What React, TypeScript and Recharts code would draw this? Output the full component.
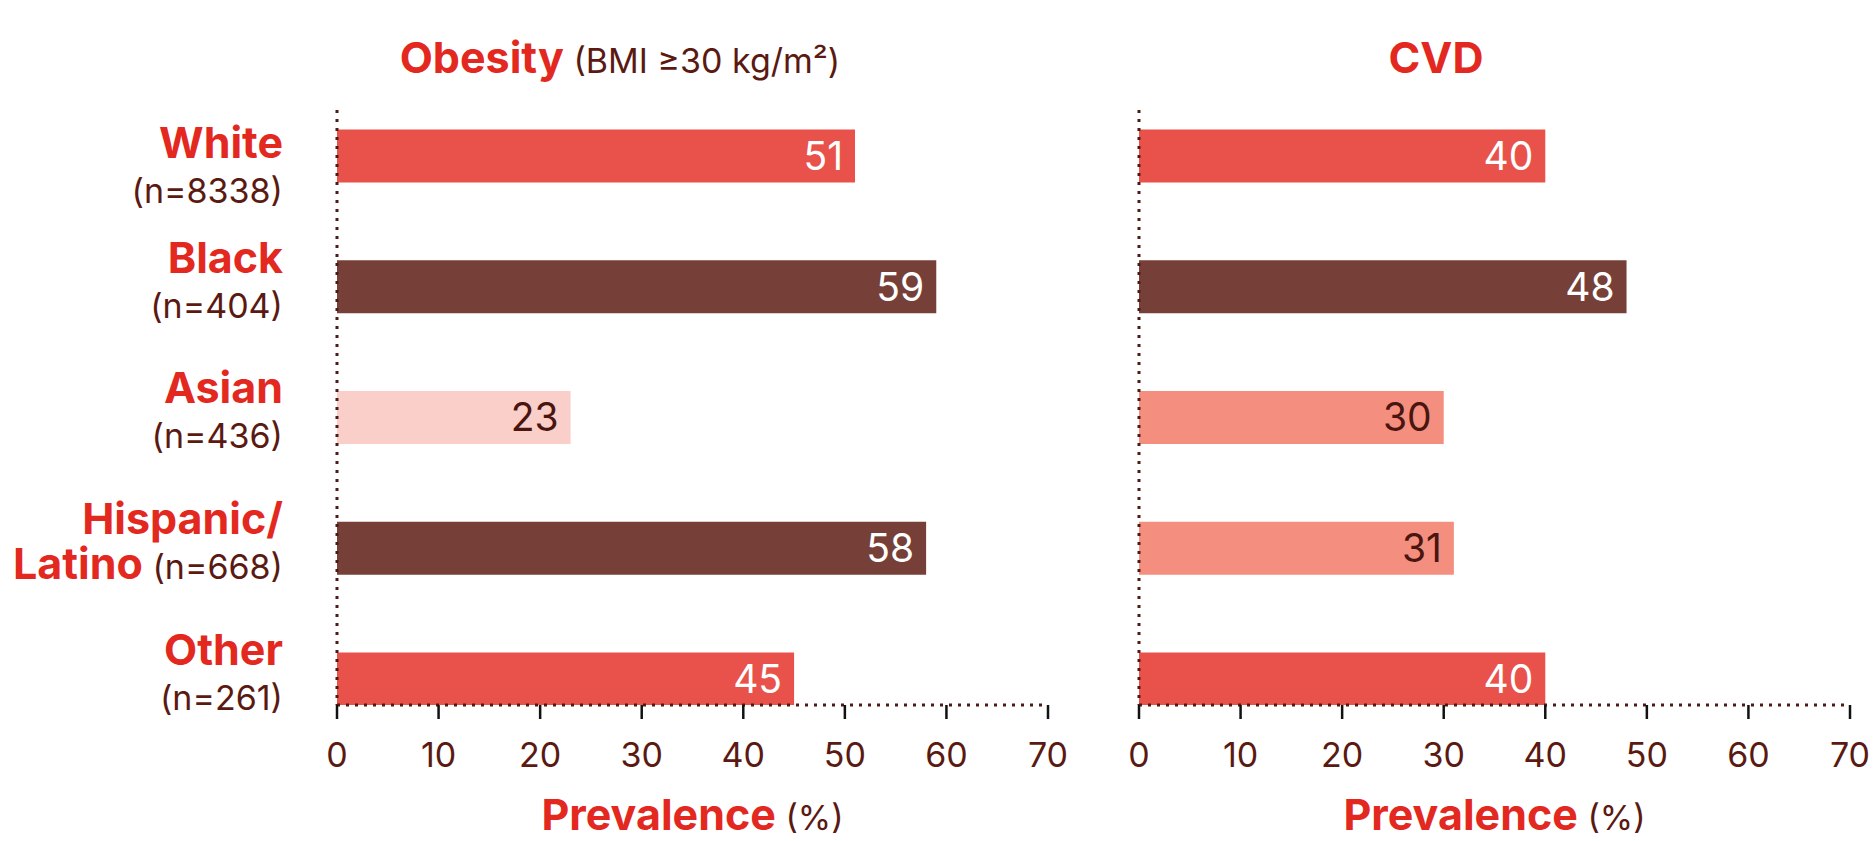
import React from 'react';
import { BarChart, Bar, XAxis, YAxis, Cell, LabelList, Label } from 'recharts';

// data
const categories = ['White', 'Black', 'Asian', 'Hispanic/Latino', 'Other'];
const sampleSizes = [8338, 404, 436, 668, 261];
const obesityValues = [51, 59, 23, 58, 45];
const cvdValues = [40, 48, 30, 31, 40];
const xTicks = [0, 10, 20, 30, 40, 50, 60, 70];

const FONT = 'Inter, "Noto Sans", sans-serif';
const RED_TEXT = '#e3291f';
const DARK_TEXT = '#5a1a12';
const RED = '#e8524b';
const BROWN = '#764038';
const PALE = '#fbcfc9';
const SALMON = '#f48f7f';
const AXIS_DOTS = '#4e1a14';

const obesityColors = [RED, BROWN, PALE, BROWN, RED];
const cvdColors = [RED, BROWN, SALMON, SALMON, RED];
// the first row's label sits a bit lower in the original
const labelShift = [16, 0, 0, 0, 0];

const obesityData = categories.map((c, i) => ({ idx: i, name: c, value: obesityValues[i] }));
const cvdData = categories.map((c, i) => ({ idx: i, name: c, value: cvdValues[i] }));

const makeValueLabel = (colors: string[]) => (props: any) => {
  const { x, y, width, height, value, index } = props;
  const light = colors[index] === PALE || colors[index] === SALMON;
  return (
    <text
      x={Number(x) + Number(width) - 12}
      y={Number(y) + Number(height) / 2 + 14}
      textAnchor="end"
      fontSize={39}
      fontFamily={FONT}
      fill={light ? '#4a150f' : '#ffffff'}
    >
      {value}
    </text>
  );
};

const CategoryTick = (props: any) => {
  const { x, y, payload } = props;
  const i = payload.value as number;
  const name = categories[i];
  const n = sampleSizes[i];
  const s = labelShift[i] || 0;
  if (name === undefined) return null;
  if (name.includes('/')) {
    const [first, second] = name.split('/');
    return (
      <g fontFamily={FONT}>
        <text x={x} y={y - 14 + s} textAnchor="end" fontSize={43} fontWeight={700} fill={RED_TEXT}>
          {first}/
        </text>
        <text x={x} y={y + 31 + s} textAnchor="end">
          <tspan fontSize={43} fontWeight={700} fill={RED_TEXT}>{second}</tspan>
          <tspan fontSize={34} fill={DARK_TEXT}> (n={n})</tspan>
        </text>
      </g>
    );
  }
  return (
    <g fontFamily={FONT}>
      <text x={x} y={y - 14 + s} textAnchor="end" fontSize={43} fontWeight={700} fill={RED_TEXT}>
        {name}
      </text>
      <text x={x} y={y + 31 + s} textAnchor="end" fontSize={34} fill={DARK_TEXT}>
        (n={n})
      </text>
    </g>
  );
};

const AxisTitle = (props: any) => {
  const vb = props.viewBox || { x: 0, y: 0, width: 0, height: 0 };
  return (
    <text x={vb.x + vb.width / 2} y={vb.y + 125} textAnchor="middle" fontFamily={FONT}>
      <tspan fontSize={43} fontWeight={700} fill={RED_TEXT}>Prevalence</tspan>
      <tspan fontSize={34} fill={DARK_TEXT}> (%)</tspan>
    </text>
  );
};

const Panel = ({ data, colors, width, margin, yWidth, showLabels }: any) => (
  <BarChart width={width} height={841} data={data} layout="vertical" margin={margin}>
    <XAxis
      type="number"
      domain={[0, 70]}
      ticks={xTicks}
      height={136}
      tickSize={14}
      tickMargin={24}
      axisLine={{ stroke: AXIS_DOTS, strokeWidth: 3, strokeDasharray: '3 6' }}
      tickLine={{ stroke: '#111111', strokeWidth: 2.5 }}
      tick={{ fill: DARK_TEXT, fontSize: 34, fontFamily: FONT }}
    >
      <Label content={<AxisTitle />} />
    </XAxis>
    <YAxis
      type="number"
      dataKey="idx"
      domain={[-0.35, 4.2]}
      allowDataOverflow
      ticks={[0, 1, 2, 3, 4]}
      width={yWidth}
      tickSize={0}
      tickMargin={54}
      tickLine={false}
      axisLine={{ stroke: AXIS_DOTS, strokeWidth: 3, strokeDasharray: '3 6' }}
      tick={showLabels ? <CategoryTick /> : false}
    />
    <Bar dataKey="value" barSize={53} isAnimationActive={false}>
      {data.map((_: any, i: number) => (
        <Cell key={i} fill={colors[i]} />
      ))}
      <LabelList dataKey="value" content={makeValueLabel(colors)} />
    </Bar>
  </BarChart>
);

export default function App() {
  return (
    <div style={{ position: 'absolute', left: 0, top: 0, width: 1875, height: 841, background: '#fff' }}>
      <div style={{ position: 'absolute', left: 0, top: 0 }}>
        <Panel
          data={obesityData}
          colors={obesityColors}
          width={1070}
          margin={{ top: 110, right: 22, bottom: 0, left: 0 }}
          yWidth={337}
          showLabels
        />
      </div>
      <div style={{ position: 'absolute', left: 1100, top: 0 }}>
        <Panel
          data={cvdData}
          colors={cvdColors}
          width={775}
          margin={{ top: 110, right: 25, bottom: 0, left: 0 }}
          yWidth={39}
          showLabels={false}
        />
      </div>
      <svg
        width={1875}
        height={120}
        style={{ position: 'absolute', left: 0, top: 0, pointerEvents: 'none' }}
        fontFamily={FONT}
      >
        <text x={620} y={73} textAnchor="middle">
          <tspan fontSize={43} fontWeight={700} fill={RED_TEXT}>Obesity</tspan>
          <tspan fontSize={34} fill={DARK_TEXT}> (BMI ≥30 kg/m²)</tspan>
        </text>
        <text x={1436} y={73} textAnchor="middle" fontSize={43} fontWeight={700} fill={RED_TEXT}>
          CVD
        </text>
      </svg>
    </div>
  );
}
